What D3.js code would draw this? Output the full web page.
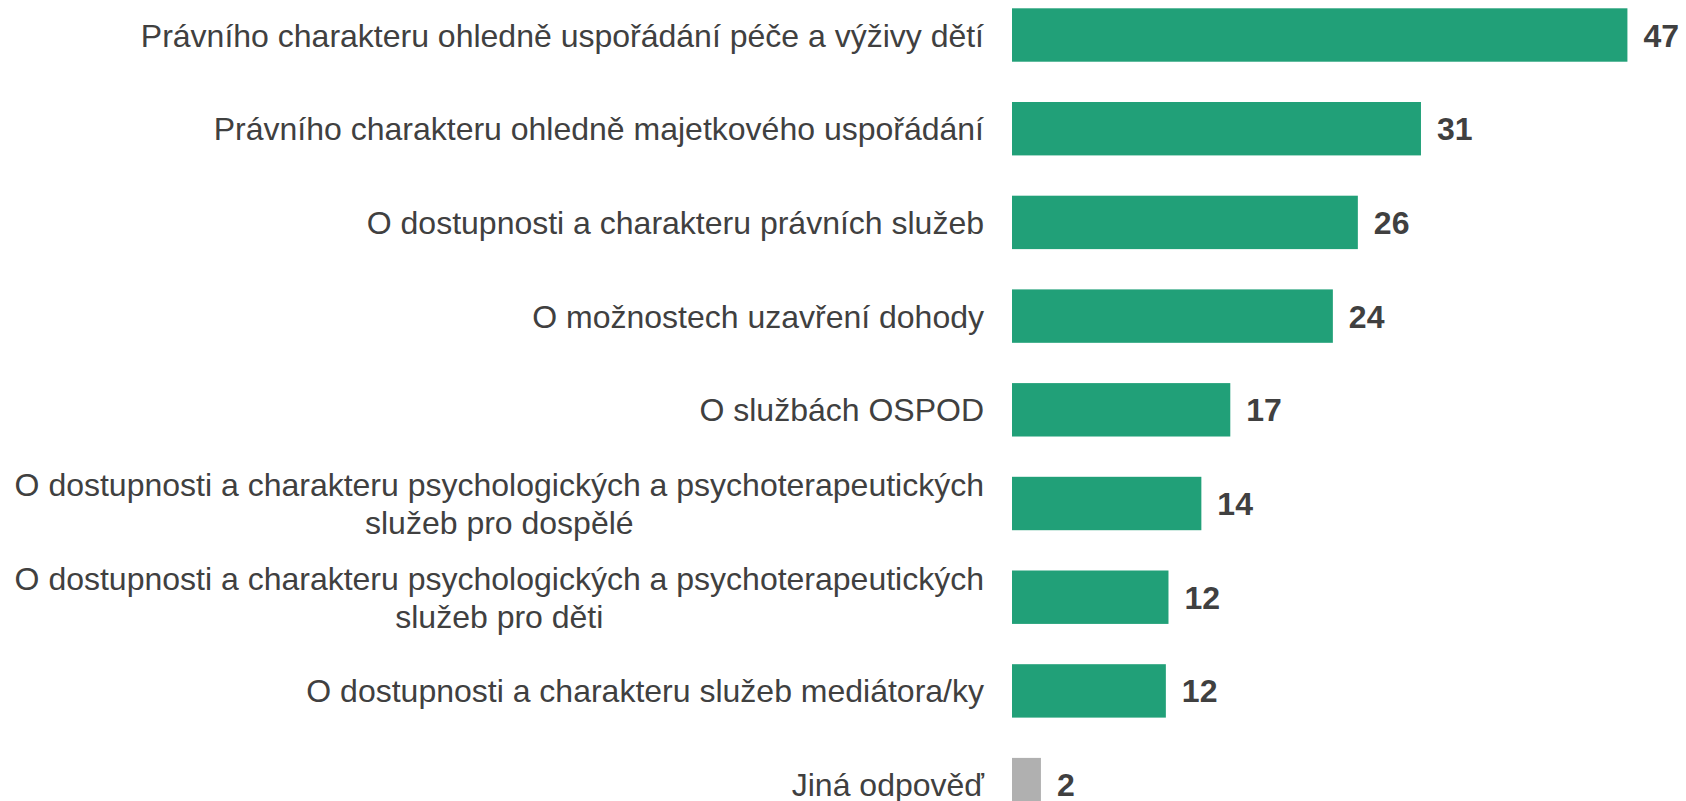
<!DOCTYPE html>
<html>
<head>
<meta charset="utf-8">
<script src="https://cdn.jsdelivr.net/npm/d3@7"></script>
<style>
  html, body { margin: 0; padding: 0; background: #ffffff; }
  svg { display: block; }
</style>
</head>
<body>
<svg id="chart" width="1686" height="801"></svg>
<script>
const categories = [
  "Právního charakteru ohledně uspořádání péče a výživy dětí",
  "Právního charakteru ohledně majetkového uspořádání",
  "O dostupnosti a charakteru právních služeb",
  "O možnostech uzavření dohody",
  "O službách OSPOD",
  "O dostupnosti a charakteru psychologických a psychoterapeutických\nslužeb pro dospělé",
  "O dostupnosti a charakteru psychologických a psychoterapeutických\nslužeb pro děti",
  "O dostupnosti a charakteru služeb mediátora/ky",
  "Jiná odpověď"
];
const values = [46.8, 31.1, 26.3, 24.4, 16.6, 14.4, 11.9, 11.7, 2.2];
const barColors = ["#21a078", "#21a078", "#21a078", "#21a078", "#21a078", "#21a078", "#21a078", "#21a078", "#b0b0b0"];

const svg = d3.select("#chart");
const x0 = 1012, pxPerUnit = 13.15;
const x = d3.scaleLinear().domain([0, 50]).range([x0, x0 + 50 * pxPerUnit]);

const step = 93.7, pInner = 0.43, pOuter = 0.215;
const top0 = 8.3 - step * pOuter;
const y = d3.scaleBand()
  .domain(categories)
  .range([top0, top0 + step * (categories.length - pInner + 2 * pOuter)])
  .paddingInner(pInner)
  .paddingOuter(pOuter);

const fmt = d3.format(".0f");
const fontSize = 32;
const textColor = "#404040";
const font = "Liberation Sans, Arial, sans-serif";

const rows = svg.selectAll("g.row").data(categories).join("g").attr("class", "row");

rows.append("rect")
  .attr("x", x(0))
  .attr("y", d => y(d))
  .attr("width", (d, i) => x(values[i]) - x(0))
  .attr("height", y.bandwidth())
  .attr("fill", (d, i) => barColors[i]);

rows.append("text")
  .attr("x", (d, i) => x(values[i]) + 16)
  .attr("y", d => y(d) + y.bandwidth() / 2)
  .attr("dy", "0.36em")
  .attr("font-family", font)
  .attr("font-weight", "bold")
  .attr("font-size", fontSize)
  .attr("fill", textColor)
  .text((d, i) => fmt(values[i]));

const lineH = 37.6;
const labelRight = 984;
rows.append("text")
  .attr("class", "cat")
  .attr("text-anchor", "end")
  .attr("font-family", font)
  .attr("font-size", fontSize)
  .attr("fill", textColor)
  .each(function(d) {
    const lines = d.split("\n");
    const cy = y(d) + y.bandwidth() / 2;
    const t = d3.select(this);
    lines.forEach((ln, k) => {
      t.append("tspan")
        .attr("x", labelRight)
        .attr("y", cy + (k - (lines.length - 1) / 2) * lineH)
        .attr("dy", "0.36em")
        .text(ln);
    });
  });

// wrapped labels: lines centred on each other, block right-aligned
svg.selectAll("text.cat").each(function() {
  const spans = d3.select(this).selectAll("tspan").nodes();
  if (spans.length < 2) return;
  const wMax = d3.max(spans, s => s.getComputedTextLength());
  const center = labelRight - wMax / 2;
  d3.select(this).attr("text-anchor", "middle");
  spans.forEach(s => d3.select(s).attr("x", center));
});
</script>
</body>
</html>
